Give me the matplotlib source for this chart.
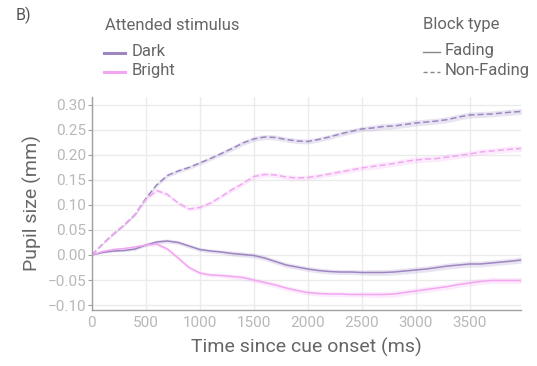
import numpy as np
import matplotlib.pyplot as plt
from matplotlib.lines import Line2D

plt.rcParams['font.family'] = ['Roboto', 'DejaVu Sans']

# time since cue onset (ms)
time_ms = [0, 100, 200, 300, 400, 500, 600, 700, 800, 900,
           1000, 1100, 1200, 1300, 1400, 1500, 1600, 1700, 1800, 1900,
           2000, 2100, 2200, 2300, 2400, 2500, 2600, 2700, 2800, 2900,
           3000, 3100, 3200, 3300, 3400, 3500, 3600, 3700, 3800, 3900, 3980]

# pupil size (mm), per attended stimulus x block type
dark_nonfading = [0.000, 0.022, 0.042, 0.060, 0.081, 0.113, 0.140, 0.159, 0.168, 0.175,
                  0.184, 0.193, 0.203, 0.213, 0.224, 0.232, 0.236, 0.235, 0.231, 0.228,
                  0.227, 0.231, 0.236, 0.242, 0.247, 0.252, 0.254, 0.257, 0.258, 0.261,
                  0.264, 0.266, 0.268, 0.271, 0.276, 0.280, 0.281, 0.282, 0.284, 0.286, 0.287]
bright_nonfading = [0.000, 0.022, 0.042, 0.060, 0.081, 0.111, 0.129, 0.121, 0.104, 0.092,
                    0.095, 0.104, 0.117, 0.131, 0.143, 0.157, 0.161, 0.160, 0.156, 0.154,
                    0.155, 0.158, 0.162, 0.166, 0.170, 0.174, 0.177, 0.180, 0.183, 0.187,
                    0.190, 0.192, 0.193, 0.196, 0.199, 0.202, 0.206, 0.208, 0.210, 0.212, 0.213]
dark_fading = [0.000, 0.005, 0.008, 0.009, 0.012, 0.020, 0.026, 0.028, 0.025, 0.018,
               0.011, 0.008, 0.006, 0.003, 0.001, -0.001, -0.006, -0.013, -0.020, -0.024,
               -0.028, -0.031, -0.033, -0.034, -0.034, -0.035, -0.035, -0.035, -0.034, -0.032,
               -0.030, -0.028, -0.025, -0.022, -0.020, -0.018, -0.018, -0.016, -0.014, -0.012, -0.010]
bright_fading = [0.000, 0.007, 0.011, 0.013, 0.016, 0.020, 0.022, 0.012, -0.006, -0.025,
                 -0.036, -0.040, -0.041, -0.043, -0.045, -0.050, -0.055, -0.060, -0.066, -0.071,
                 -0.075, -0.077, -0.078, -0.078, -0.079, -0.079, -0.079, -0.079, -0.078, -0.075,
                 -0.072, -0.069, -0.066, -0.063, -0.059, -0.056, -0.053, -0.051, -0.051, -0.051, -0.051]
# standard error band half-width (mm)
sem = [0.000, 0.001, 0.002, 0.002, 0.003, 0.003, 0.004, 0.004, 0.004, 0.004,
       0.004, 0.004, 0.004, 0.005, 0.005, 0.005, 0.005, 0.005, 0.005, 0.005,
       0.005, 0.005, 0.005, 0.005, 0.005, 0.005, 0.006, 0.006, 0.006, 0.006,
       0.006, 0.006, 0.006, 0.006, 0.006, 0.006, 0.006, 0.006, 0.006, 0.006, 0.006]

stim_labels = ['Dark', 'Bright']
block_labels = ['Fading', 'Non-Fading']

DARK = '#9d86c2'
BRIGHT = '#f2a6f2'
TEXT = '#666666'
TICK = '#b8b8b8'

W, H = 537, 366
fig = plt.figure(figsize=(W / 100, H / 100), dpi=100)
ax = fig.add_axes([0.171, 0.153, 0.800, 0.582])

t = np.array(time_ms)
s = np.array(sem)
series = [
    (dark_nonfading, DARK, '--'),
    (bright_nonfading, BRIGHT, '--'),
    (dark_fading, DARK, '-'),
    (bright_fading, BRIGHT, '-'),
]
for vals, color, ls in series:
    y = np.array(vals)
    ax.fill_between(t, y - s, y + s, color=color, alpha=0.22, linewidth=0)
    if ls == '--':
        ax.plot(t, y, color=color, linestyle='--', dashes=(4, 2), linewidth=1.1)
    else:
        ax.plot(t, y, color=color, linewidth=1.1)

ax.set_xlim(0, 3980)
ax.set_ylim(-0.11, 0.316)
ax.set_xticks([0, 500, 1000, 1500, 2000, 2500, 3000, 3500])
ax.set_yticks([-0.10, -0.05, 0.00, 0.05, 0.10, 0.15, 0.20, 0.25, 0.30])
ax.set_yticklabels(['\u22120.10', '\u22120.05', '0.00', '0.05', '0.10', '0.15', '0.20', '0.25', '0.30'])
ax.grid(True, color='#ebebeb', linewidth=1.0)
ax.set_axisbelow(True)
for side in ['top', 'right']:
    ax.spines[side].set_visible(False)
for side in ['left', 'bottom']:
    ax.spines[side].set_color('#a0a0a0')
    ax.spines[side].set_linewidth(1.0)
ax.tick_params(axis='y', length=3, color='#a0a0a0', labelsize=11, labelcolor=TICK, pad=1)
ax.tick_params(axis='x', length=0, labelsize=11, labelcolor=TICK, pad=4)

ax.set_xlabel('Time since cue onset (ms)', fontsize=14, color=TEXT, labelpad=6)
ax.set_ylabel('Pupil size (mm)', fontsize=14, color=TEXT, labelpad=4)

# panel tag and hand-placed legends (figure pixel coords, y from top)
def fx(px):
    return px / W

def fy(py):
    return 1 - py / H

fig.text(fx(16), fy(15), 'B)', fontsize=11.5, color='#555555', va='center')

fig.text(fx(105), fy(25), 'Attended stimulus', fontsize=12, color=TEXT, va='center')
for i, (lab, col) in enumerate(zip(stim_labels, [DARK, BRIGHT])):
    yy = 52 + i * 18.5
    fig.add_artist(Line2D([fx(104), fx(125)], [fy(yy + 1), fy(yy + 1)], color=col, linewidth=2.2))
    fig.text(fx(132), fy(yy), lab, fontsize=12, color=TEXT, va='center')

fig.text(fx(423), fy(25), 'Block type', fontsize=12, color=TEXT, va='center')
for i, (lab, ls) in enumerate(zip(block_labels, ['-', '--'])):
    yy = 51 + i * 19.5
    ln = Line2D([fx(423), fx(440)], [fy(yy + 1), fy(yy + 1)], color='#888888', linewidth=1)
    if ls == '--':
        ln.set_dashes((3, 2))
    fig.add_artist(ln)
    fig.text(fx(445), fy(yy), lab, fontsize=12, color=TEXT, va='center')

fig.savefig('out.png', dpi=100)
